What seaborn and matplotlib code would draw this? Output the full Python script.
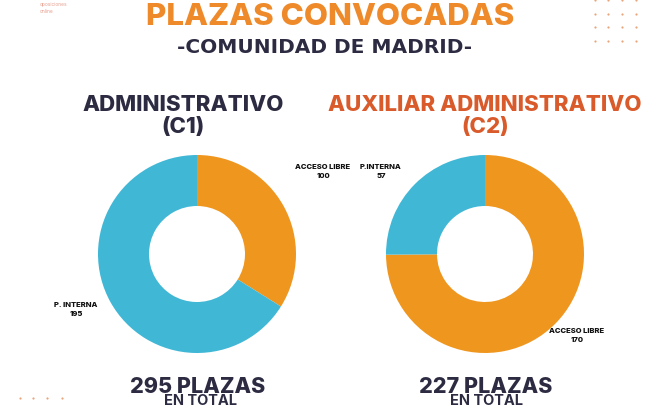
import matplotlib
matplotlib.use("Agg")
import matplotlib.pyplot as plt
import seaborn as sns

sns.set_theme(style="white")
plt.rcParams['font.family'] = ['Inter', 'DejaVu Sans']

# Data
categories = ["ACCESO LIBRE", "P. INTERNA"]
c1_values = [100, 195]
c2_values = [170, 57]
c1_labels = ["ACCESO LIBRE", "P. INTERNA"]
c2_labels = ["ACCESO LIBRE", "P.INTERNA"]
titles = ["ADMINISTRATIVO\n(C1)", "AUXILIAR ADMINISTRATIVO\n(C2)"]
totals = [295, 227]

ORANGE = "#EF961F"
BLUE = "#41B7D6"
NAVY = "#2C2B42"
RED = "#D95A2B"
TITLE_OR = "#EE8A2A"

W, H = 650, 406
fig = plt.figure(figsize=(6.5, 4.06), dpi=100)
ax = fig.add_axes([0, 0, 1, 1])

def Y(y):
    return H - y

ax.pie(c1_values, colors=[ORANGE, BLUE], startangle=90, counterclock=False,
       center=(197, Y(255)), radius=99, wedgeprops=dict(width=51, linewidth=0))
ax.pie(c2_values, colors=[ORANGE, BLUE], startangle=90, counterclock=False,
       center=(485, Y(255)), radius=99, wedgeprops=dict(width=51, linewidth=0))
ax.set_xlim(0, W)
ax.set_ylim(0, H)
ax.set_aspect('auto')
ax.axis('off')

# Titles
ax.text(330, Y(25), "PLAZAS CONVOCADAS", ha='center', va='baseline',
        fontsize=22.5, fontweight='heavy', color=TITLE_OR)
ax.text(325, Y(53), "-COMUNIDAD DE MADRID-", ha='center', va='baseline',
        fontsize=14.5, fontweight='bold', color=NAVY, family=['DejaVu Sans'])
ax.text(183, Y(116), titles[0], ha='center', va='center', fontsize=16,
        fontweight='heavy', color=NAVY, linespacing=1.1)
ax.text(485, Y(116), titles[1], ha='center', va='center', fontsize=16,
        fontweight='heavy', color=RED, linespacing=1.1)

# Slice labels
lab_kw = dict(ha='center', va='center', fontsize=5.5, fontweight='heavy', color='#111111', linespacing=1.6)
ax.text(323, Y(172), f"{c1_labels[0]}\n{c1_values[0]}", **lab_kw)
ax.text(76, Y(310), f"{c1_labels[1]}\n{c1_values[1]}", **lab_kw)
ax.text(381, Y(172), f"{c2_labels[1]}\n{c2_values[1]}", **lab_kw)
ax.text(577, Y(336), f"{c2_labels[0]}\n{c2_values[0]}", **lab_kw)

# Totals
for cx, t, dx in zip([198, 486], totals, [3, 0]):
    ax.text(cx, Y(393), f"{t} PLAZAS", ha='center', va='baseline', fontsize=15.5,
            fontweight='heavy', color=NAVY)
    ax.text(cx + dx, Y(405.5), "EN TOTAL", ha='center', va='baseline', fontsize=10.5,
            fontweight='bold', color=NAVY)

# Logo text
ax.text(40, Y(8), "oposiciones\nonline", ha='left', va='center', fontsize=3.5,
        color='#E8A090', linespacing=1.3)

# Decorative dots
for xx in [595, 608, 622, 636]:
    for yy in [1, 15, 28, 42]:
        ax.plot(xx, Y(yy), 'o', ms=1.6, color='#E7A57A', mew=0)
for xx in [20, 33, 47, 62]:
    ax.plot(xx, Y(399), 'o', ms=1.6, color='#E7A57A', mew=0)

fig.savefig("out.png", dpi=100, facecolor='white')
